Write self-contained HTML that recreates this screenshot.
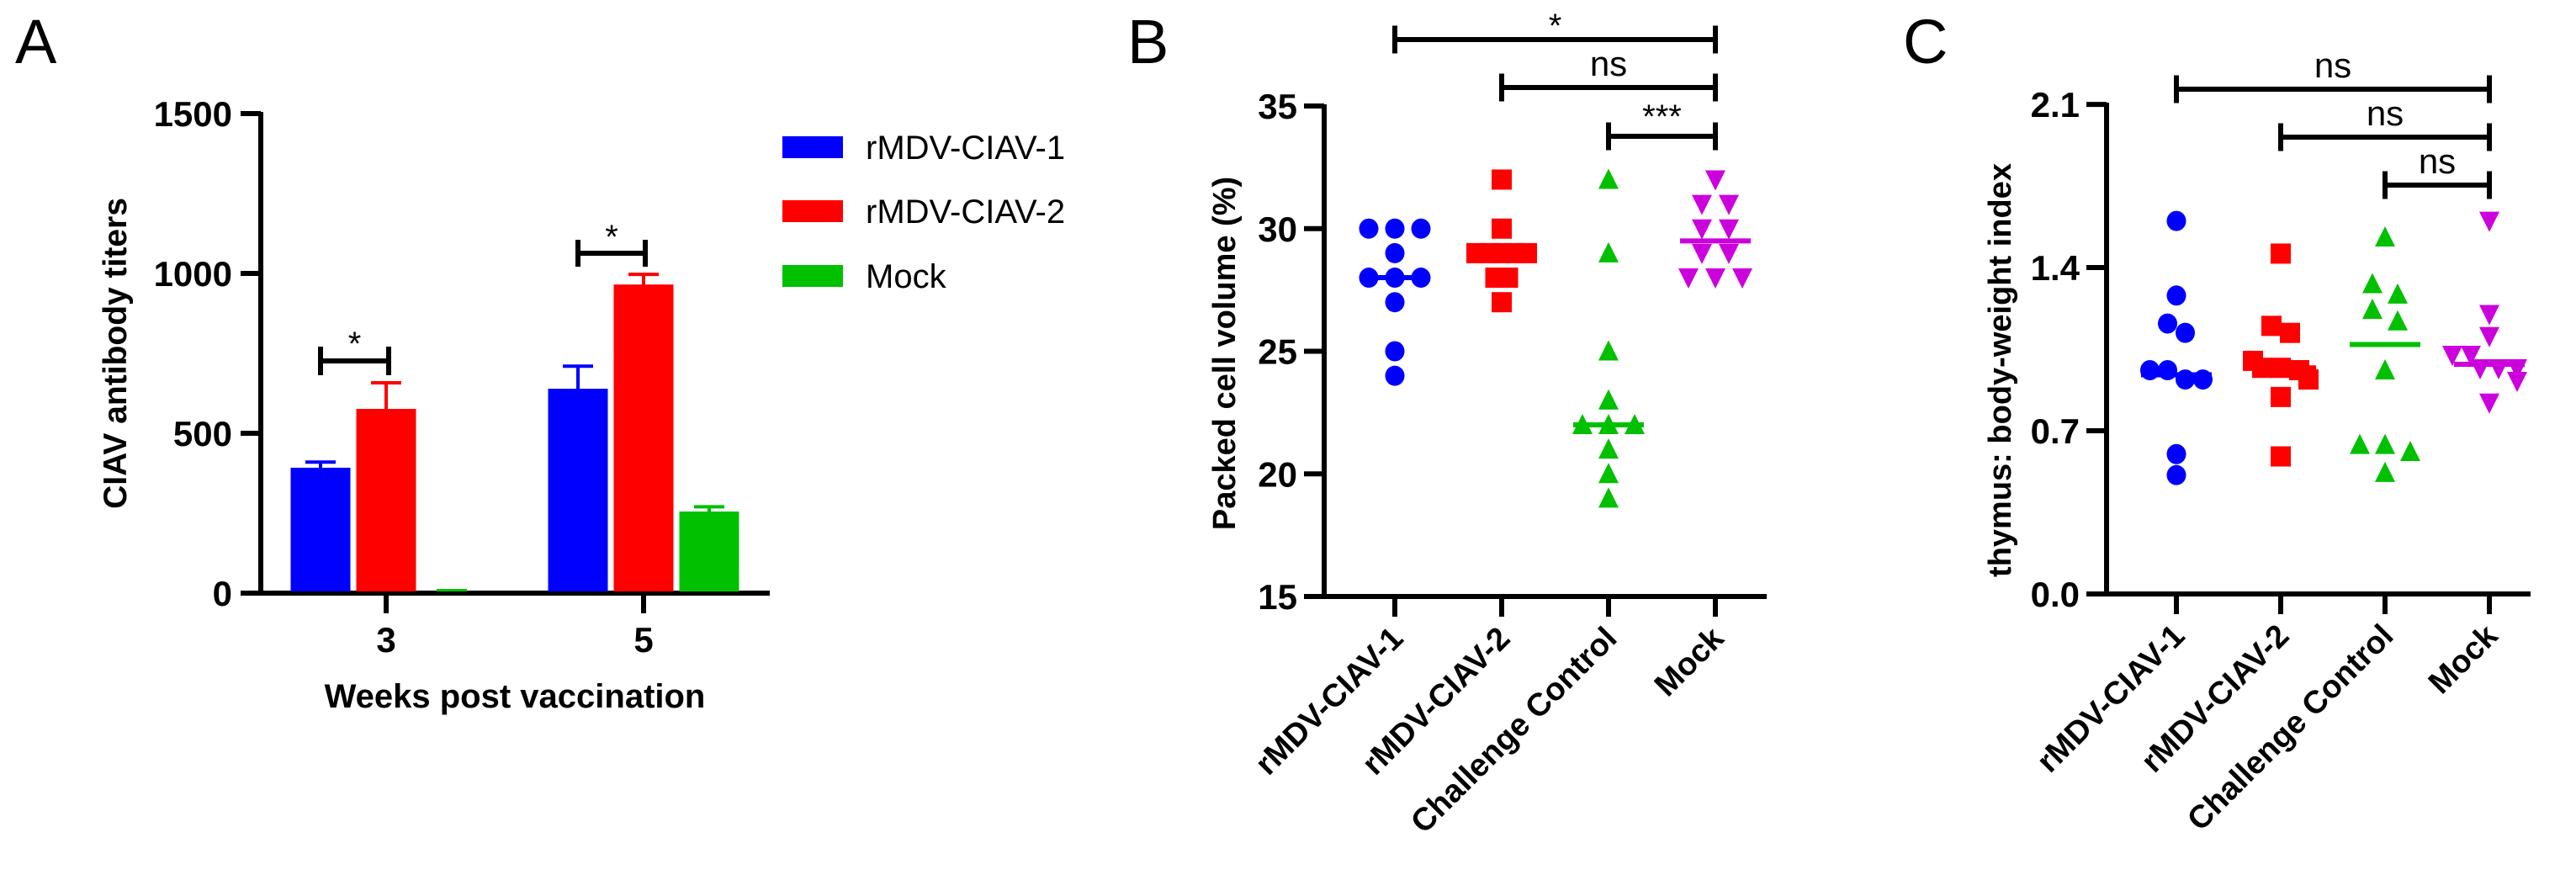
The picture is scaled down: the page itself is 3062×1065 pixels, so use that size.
<!DOCTYPE html>
<html><head><meta charset="utf-8"><style>
html,body{margin:0;padding:0;background:#fff}
svg{display:block}
text{font-family:"Liberation Sans",Arial,sans-serif}
.tick{font-family:"Liberation Sans Narrow","Liberation Sans",sans-serif;font-weight:bold;font-size:42px}
</style></head><body>
<svg id="fig" width="3062" height="1065" viewBox="0 0 3062 1065" xmlns="http://www.w3.org/2000/svg">
<g id="pa"></g>
<g id="pb"></g>
<g id="pc"></g>
</svg>
<script>
// Panel A data
const aWeeks = ["3","5"];
const aSeries = ["rMDV-CIAV-1","rMDV-CIAV-2","Mock"];
const aMeans1 = [387, 634];
const aMeans2 = [571, 960];
const aMeans3 = [3, 250];
const aErr1 = [23, 76];
const aErr2 = [87, 37];
const aErr3 = [0, 20];
const aTicks = [0, 500, 1000, 1500];
// Panel B data
const groups = ["rMDV-CIAV-1","rMDV-CIAV-2","Challenge Control","Mock"];
const bVals1 = [30,30,30,29,28,28,28,27,25,24];
const bVals2 = [32,30,29,29,29,29,29,28,28,27];
const bVals3 = [32,29,25,23,22,22,22,21,20,19];
const bVals4 = [32,31,31,30,30,29,29,28,28,28];
const bMed = [28, 29, 22, 29.5];
const bTicks = [15,20,25,30,35];
// Panel C data
const cVals1 = [1.60,1.28,1.16,1.12,0.96,0.96,0.92,0.92,0.60,0.51];
const cVals2 = [1.46,1.15,1.12,1.00,0.97,0.97,0.96,0.92,0.845,0.59];
const cVals3 = [1.53,1.33,1.285,1.22,1.17,0.96,0.64,0.64,0.61,0.52];
const cVals4 = [1.60,1.20,1.105,1.025,1.025,0.967,0.967,0.967,0.913,0.82];
const cMed = [0.94, 0.97, 1.07, 0.985];
const cTicks = [0.0, 0.7, 1.4, 2.1];

const NS="http://www.w3.org/2000/svg";
function mk(p,tag,at,txt){const e=document.createElementNS(NS,tag);for(const k in at)e.setAttribute(k,at[k]);if(txt!==undefined)e.textContent=txt;p.appendChild(e);return e;}
const colors=["#0000ff","#ff0000","#00c000","#cc00dd"];

// ---------- Panel A ----------
const pa=document.getElementById('pa');
const aY=v=>705-v*(380/1000);
const aGroupX=[459,765];
let e=mk(pa,'text',{x:18,y:75,'font-size':74},'A');


e=mk(pa,'line',{x1:310,y1:aY(1500)-2,x2:310,y2:708,stroke:'#000','stroke-width':6});


e=mk(pa,'line',{x1:286,y1:705,x2:915,y2:705,stroke:'#000','stroke-width':6});


aTicks.forEach(t=>{
  e=mk(pa,'line',{x1:286,y1:aY(t),x2:310,y2:aY(t),stroke:'#000','stroke-width':6});
  
  
  e=mk(pa,'text',{x:276,y:aY(t)+15,'text-anchor':'end',class:'tick'},String(t));
  
  
});
const aMeans=[aMeans1,aMeans2,aMeans3], aErr=[aErr1,aErr2,aErr3];
aWeeks.forEach((w,gi)=>{
  const cx=aGroupX[gi];
  e=mk(pa,'line',{x1:cx,y1:705,x2:cx,y2:729,stroke:'#000','stroke-width':6});
  
  
  e=mk(pa,'text',{x:cx,y:775,'text-anchor':'middle',class:'tick'},w);
  
  
  for(let s=0;s<3;s++){
    const bx=cx+(s-1)*78;
    const v=aMeans[s][gi], er=aErr[s][gi];
    const h=Math.max(705-aY(v),3);
    const w2=(v<10)?36:71;
    e=mk(pa,'rect',{x:bx-w2/2,y:705-h-2,width:w2,height:h,fill:colors[s]});
    
    
    if(er>0){
      e=mk(pa,'path',{d:`M${bx} ${aY(v)} V${aY(v+er)} M${bx-18} ${aY(v+er)} H${bx+18}`,stroke:colors[s],'stroke-width':4,fill:'none'});
      
      
    }
  }
});
function bracket(p,x1,x2,y,h,label,fs,ly){
  const g=mk(p,'g',{});
  
  
  mk(g,'path',{d:`M${x1} ${y} H${x2} M${x1} ${y-h/2} V${y+h/2} M${x2} ${y-h/2} V${y+h/2}`,stroke:'#000','stroke-width':6,fill:'none'});
  mk(g,'text',{x:(x1+x2)/2,y:ly,'text-anchor':'middle','font-size':fs,'font-family':'"Liberation Sans Narrow","Liberation Sans",sans-serif'},label);
}
bracket(pa,381,462,429,34,'*',40,422);
bracket(pa,687,767,301,32,'*',40,295);
e=mk(pa,'text',{x:0,y:0,'font-size':39,'font-weight':'bold','text-anchor':'middle',transform:'translate(150,420) rotate(-90)'},'CIAV antibody titers');


e=mk(pa,'text',{x:612,y:841,'font-size':40,'font-weight':'bold','text-anchor':'middle'},'Weeks post vaccination');


const legY=[175,251,328];
aSeries.forEach((s,i)=>{
  const g=mk(pa,'g',{});
  
  
  mk(g,'rect',{x:930,y:legY[i]-13,width:72,height:26,fill:colors[i]});
  mk(g,'text',{x:1029,y:legY[i]+14,'font-size':40},s);
});

// ---------- scatter panels ----------
function scatter(p,cfg){
  const Y=v=>cfg.y0-(v-cfg.vmin)*cfg.ppu;
  e=mk(p,'text',{x:cfg.lx,y:75,'font-size':74},cfg.label);
  
  
  e=mk(p,'line',{x1:cfg.ax,y1:Y(cfg.ticks[cfg.ticks.length-1])-2,x2:cfg.ax,y2:cfg.y0+3,stroke:'#000','stroke-width':6});
  
  
  e=mk(p,'line',{x1:cfg.ax-24,y1:cfg.y0,x2:cfg.xend,y2:cfg.y0,stroke:'#000','stroke-width':6});
  
  
  cfg.ticks.forEach(t=>{
    e=mk(p,'line',{x1:cfg.ax-24,y1:Y(t),x2:cfg.ax,y2:Y(t),stroke:'#000','stroke-width':6});
    
    
    e=mk(p,'text',{x:cfg.ax-32,y:Y(t)+15,'text-anchor':'end',class:'tick'},cfg.fmt(t));
    
    
  });
  e=mk(p,'text',{x:0,y:0,'font-size':38,'font-weight':'bold','text-anchor':'middle',transform:`translate(${cfg.tx},${cfg.ty}) rotate(-90)`},cfg.title);
  
  
  groups.forEach((gname,gi)=>{
    const cx=cfg.x0+gi*cfg.dx;
    e=mk(p,'line',{x1:cx,y1:cfg.y0,x2:cx,y2:cfg.y0+24,stroke:'#000','stroke-width':6});
    
    
    e=mk(p,'text',{x:0,y:0,'font-size':38,'font-weight':'bold','text-anchor':'end',transform:`translate(${cx+12},${cfg.y0+52}) rotate(-45)`},gname);
    
    
    const vals=cfg.vals[gi];
    const sp=cfg.spread[gi];
    const placed=[];
    vals.forEach(v=>{
      const same=vals.filter(u=>Math.abs(Y(u)-Y(v))<cfg.bin);
      const idx=placed.filter(u=>Math.abs(Y(u)-Y(v))<cfg.bin).length;
      placed.push(v);
      const n=same.length;
      const px=cx+(idx-(n-1)/2)*sp;
      const py=Y(v);
      let m;
      if(gi===0) m=mk(p,'ellipse',{cx:px,cy:py,rx:11.5,ry:12,fill:colors[0]});
      else if(gi===1) m=mk(p,'rect',{x:px-12,y:py-12,width:24,height:24,fill:colors[1]});
      else if(gi===2) m=mk(p,'path',{d:`M${px} ${py-13} L${px+12} ${py+11} L${px-12} ${py+11}Z`,fill:colors[2]});
      else m=mk(p,'path',{d:`M${px} ${py+13} L${px+12} ${py-11} L${px-12} ${py-11}Z`,fill:colors[3]});
      
      
    });
    e=mk(p,'line',{x1:cx-42,y1:Y(cfg.med[gi]),x2:cx+42,y2:Y(cfg.med[gi]),stroke:colors[gi],'stroke-width':6});
    
    
  });
  cfg.brackets.forEach(b=>{
    bracket(p,cfg.x0+b[0]*cfg.dx,cfg.x0+b[1]*cfg.dx,b[2],33,b[3],b[3]==='ns'?42:40,b[4]);
  });
}
scatter(document.getElementById('pb'),{label:'B',lx:1340,ax:1574,y0:709,vmin:15,ppu:29.15,ticks:bTicks,fmt:t=>String(t),
  xend:2100,x0:1658,dx:127,vals:[bVals1,bVals2,bVals3,bVals4],med:bMed,bin:8,spread:[31,15,31,32],
  title:'Packed cell volume (%)',tx:1468,ty:420,
  brackets:[[0,3,47,'*',44],[1,3,104,'ns',90],[2,3,162,'***',152]]});
scatter(document.getElementById('pc'),{label:'C',lx:2262,ax:2504,y0:706,vmin:0,ppu:277.1,ticks:cTicks,fmt:t=>t.toFixed(1),
  xend:3008,x0:2587,dx:124,vals:[cVals1,cVals2,cVals3,cVals4],med:cMed,bin:18,spread:[21,22,30,22],
  title:'thymus: body-weight index',tx:2390,ty:440,
  brackets:[[0,3,106,'ns',92],[1,3,163,'ns',149],[2,3,220,'ns',206]]});
</script>
</body></html>
